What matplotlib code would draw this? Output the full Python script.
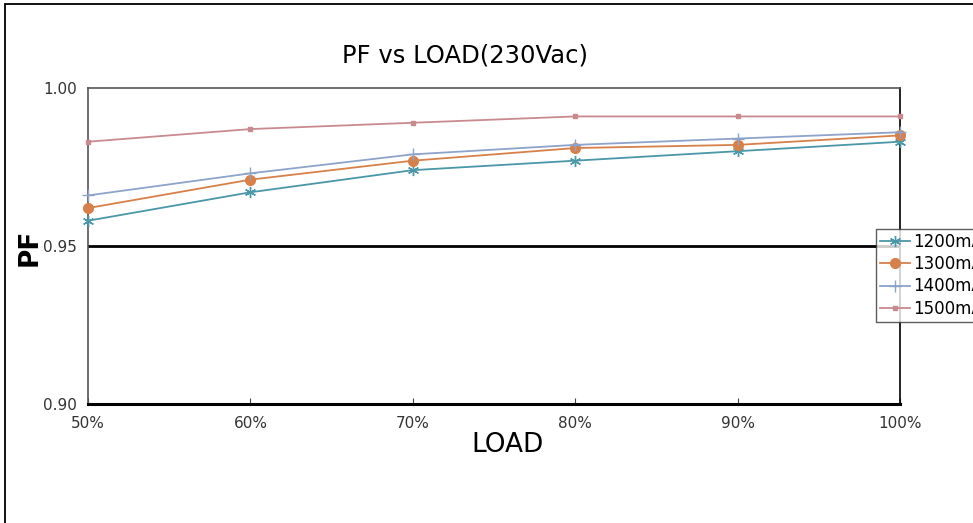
import numpy as np
import matplotlib
matplotlib.use('Agg')
import matplotlib.pyplot as plt
from matplotlib.patches import Rectangle

plt.rcParams['font.family'] = ['DejaVu Sans']

loads = ['50%', '60%', '70%', '80%', '90%', '100%']
pf_1200 = [0.958, 0.967, 0.974, 0.977, 0.980, 0.983]
pf_1300 = [0.962, 0.971, 0.977, 0.981, 0.982, 0.985]
pf_1400 = [0.966, 0.973, 0.979, 0.982, 0.984, 0.986]
pf_1500 = [0.983, 0.987, 0.989, 0.991, 0.991, 0.991]
y_ticks = [0.90, 0.95, 1.00]

fig = plt.figure(figsize=(9.73, 5.23), dpi=100)
ax = fig.add_axes([88/973, 1 - 404/523, (900 - 88)/973, (404 - 88)/523])

# outer chart frame (cut off at right and bottom like the source)
fig.patches.append(Rectangle((5/973, -0.1), 1.2, 1 - 4/523 + 0.1, transform=fig.transFigure,
                             fill=False, edgecolor='black', linewidth=1.3))

x = np.arange(len(loads))
ax.axhline(0.95, color='black', linewidth=2, zorder=1)
ax.plot(x, pf_1200, color='#4a97a8', marker=(6, 2, 0), markersize=8, linewidth=1.3,
        label='1200mA', clip_on=False, zorder=3)
ax.plot(x, pf_1300, color='#d7804a', marker='o', markersize=7, linewidth=1.3,
        label='1300mA', clip_on=False, zorder=3)
ax.plot(x, pf_1400, color='#8ea3c9', marker='+', markersize=9, linewidth=1.3,
        label='1400mA', clip_on=False, zorder=3)
ax.plot(x, pf_1500, color='#c98a8e', marker='s', markersize=3, linewidth=1.3,
        label='1500mA', clip_on=False, zorder=3)

ax.set_xlim(0, len(loads) - 1)
ax.set_ylim(0.90, 1.00)
ax.set_xticks(x)
ax.set_xticklabels(loads)
ax.set_yticks(y_ticks)
ax.set_yticklabels(['%.2f' % v for v in y_ticks])
ax.tick_params(axis='x', direction='in', length=4, width=0.8, color='#444444', labelsize=11, pad=9)
ax.tick_params(axis='y', length=0, labelsize=11, pad=8, labelcolor='#333333')
ax.tick_params(axis='x', labelcolor='#333333')

ax.spines['bottom'].set_linewidth(2.2)
ax.spines['bottom'].set_color('black')
ax.spines['top'].set_color('#555555')
ax.spines['left'].set_color('#555555')
ax.spines['right'].set_color('black')
for s in ['top', 'left', 'right']:
    ax.spines[s].set_linewidth(1.2)

fig.text(465/973, 1 - 55/523, 'PF vs LOAD(230Vac)', ha='center', va='center', fontsize=17.5)
fig.text(508/973, 1 - 445/523, 'LOAD', ha='center', va='center', fontsize=19)
fig.text(30/973, 1 - 247/523, 'PF', ha='center', va='center', fontsize=19,
         rotation=90, fontweight='bold')

leg = ax.legend(loc='upper left', bbox_to_anchor=(876/973, 1 - 229/523),
                bbox_transform=fig.transFigure, borderaxespad=0, fontsize=12,
                frameon=True, fancybox=False, handlelength=1.8, handletextpad=0.2,
                labelspacing=0.25, borderpad=0.25)
leg.get_frame().set_edgecolor('#333333')
leg.get_frame().set_linewidth(1.0)

plt.savefig('out.png', dpi=100)
